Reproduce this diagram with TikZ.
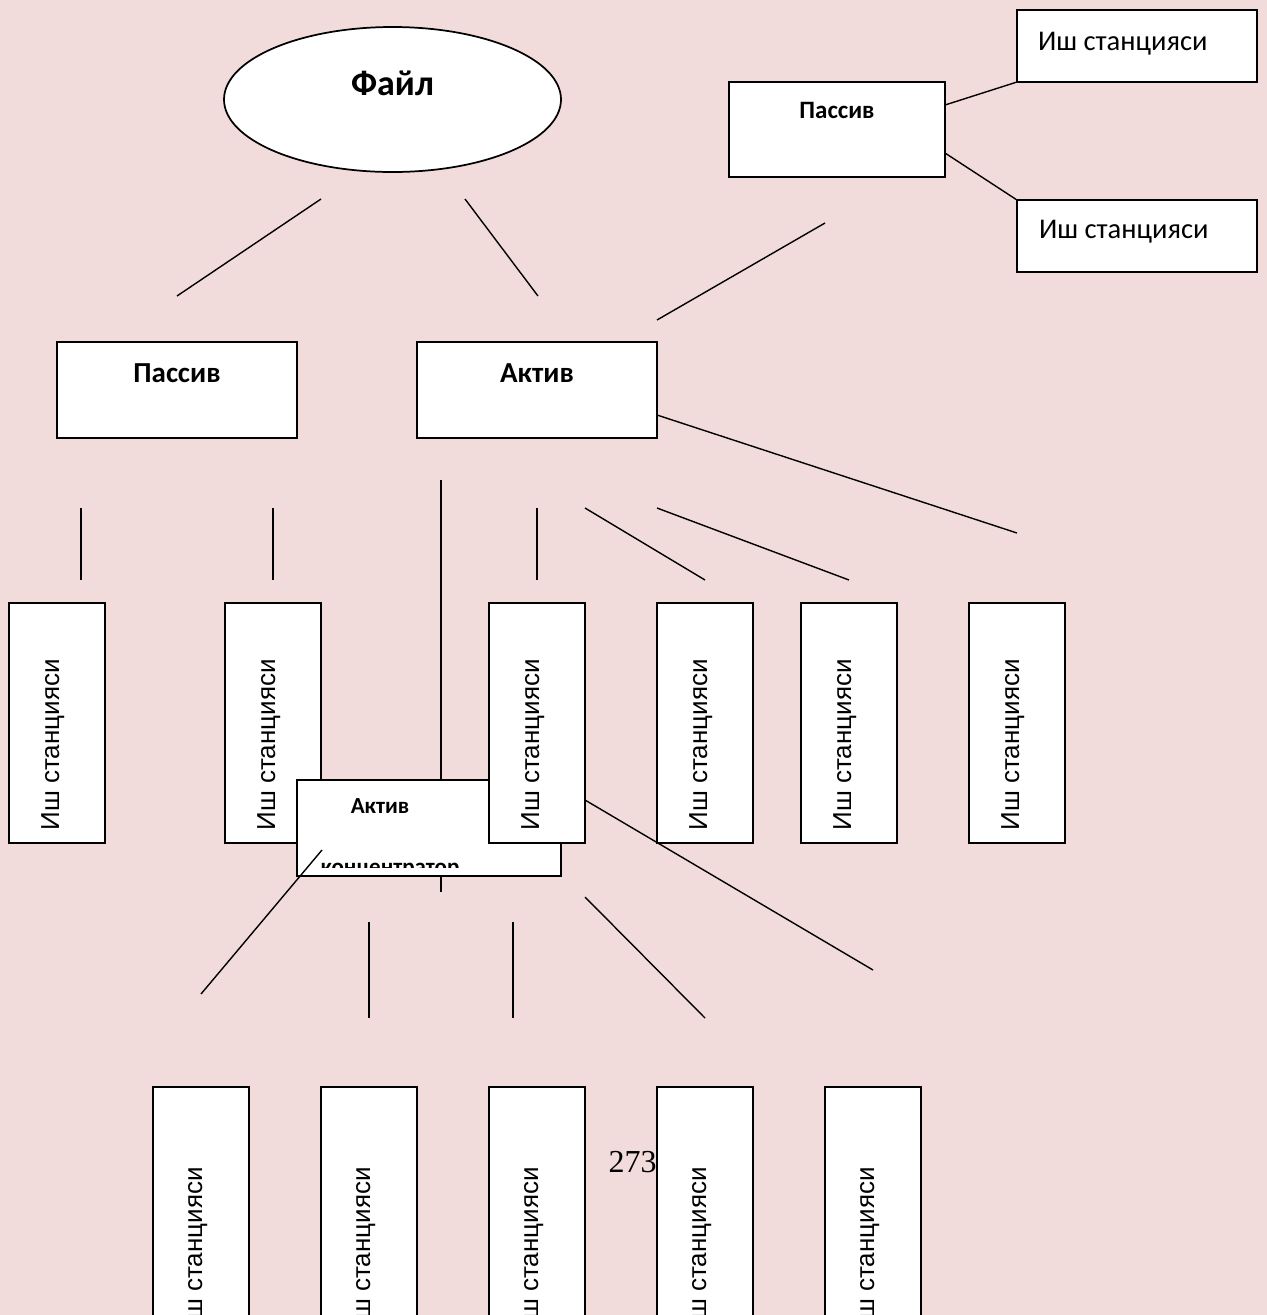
\documentclass[tikz,border=0pt]{standalone}
\usepackage{fontspec}
\setmainfont{Carlito}
\newfontfamily\arialfont{Liberation Sans}
\newfontfamily\timesfont{Liberation Serif}
\usetikzlibrary{shapes.geometric}
\definecolor{pagepink}{HTML}{F2DCDB}

\begin{document}
\begin{tikzpicture}[x=0.75pt,y=-0.75pt,
  every node/.style={inner sep=0pt, outer sep=0pt},
  frame/.style 2 args={rectangle, draw=black, fill=white, line width=1.4pt,
    anchor=north west, minimum width=#1*0.75pt, minimum height=#2*0.75pt},
  oval/.style={ellipse, draw=black, fill=white, line width=1.3pt},
  wire/.style={draw=black, line width=1.05pt},
  bigbold/.style={anchor=base, font=\bfseries\fontsize{27}{32}\selectfont},
  midbold/.style={anchor=base, font=\bfseries\fontsize{21.75}{26}\selectfont},
  smallbold/.style={anchor=base, font=\bfseries\fontsize{18.75}{22}\selectfont},
  tinybold/.style={anchor=base, font=\bfseries\fontsize{17.25}{20}\selectfont},
  plain/.style={anchor=base west, font=\fontsize{21.4}{26}\selectfont},
  vtext/.style={anchor=base, rotate=90, font=\arialfont\fontsize{19.5}{23}\selectfont},
  station/.style={frame={96}{240}},
  tallstation/.style={frame={96}{260}},
]
\useasboundingbox (0,0) rectangle (1267,1315);
\fill[pagepink] (0,0) rectangle (1267,1315);
\clip (0,0) rectangle (1267,1315);

% ---- top level: file server and the two hub types ----
\node[oval, minimum width=337*0.75pt, minimum height=145*0.75pt] (file) at (392.5,99.5) {};
\node[bigbold] (fileT) at (392.5,95) {Файл};

\coordinate (f1a) at (321,199); \coordinate (f1b) at (177,296);
\coordinate (f2a) at (465,199); \coordinate (f2b) at (538,296);
\draw[wire] (f1a) -- (f1b);
\draw[wire] (f2a) -- (f2b);

\node[frame={240}{96}] (pasL) at (57,342) {};
\node[midbold] (pasLT) at (177,382) {Пассив};
\node[frame={240}{96}] (akt) at (417,342) {};
\node[midbold] (aktT) at (537,382) {Актив};

% passive hub hanging off the active hub
\node[frame={216}{95}] (pasR) at (729,82) {};
\node[smallbold] (pasRT) at (837,118) {Пассив};
\node[frame={240}{72}] (ws1) at (1017,10) {};
\node[plain] (ws1T) at (1038,50) {Иш станцияси};
\node[frame={240}{72}] (ws2) at (1017,200) {};
\node[plain] (ws2T) at (1039,238) {Иш станцияси};

\coordinate (r1a) at (945,105);
\coordinate (r2a) at (945,153);
\draw[wire] (r1a) -- (ws1.south west);
\draw[wire] (r2a) -- (ws2.north west);
\coordinate (r3a) at (825,223); \coordinate (r3b) at (657,320);
\draw[wire] (r3a) -- (r3b);

\coordinate (a1a) at (657,415); \coordinate (a1b) at (1017,533);
\draw[wire] (a1a) -- (a1b);

% ---- short drops towards the workstations ----
\coordinate (d1a) at (81,508);  \coordinate (d1b) at (81,580);
\coordinate (d2a) at (273,508); \coordinate (d2b) at (273,580);
\coordinate (d3a) at (441,480); \coordinate (d3b) at (441,892);
\coordinate (d4a) at (537,508); \coordinate (d4b) at (537,580);
\coordinate (d5a) at (585,508); \coordinate (d5b) at (705,580);
\coordinate (d6a) at (657,508); \coordinate (d6b) at (849,580);
\draw[wire] (d1a) -- (d1b);
\draw[wire] (d2a) -- (d2b);
\draw[wire] (d3a) -- (d3b);
\draw[wire] (d4a) -- (d4b);
\draw[wire] (d5a) -- (d5b);
\draw[wire] (d6a) -- (d6b);

% ---- middle row of workstations ----
\node[station] (m1) at (9,603) {};
\node[vtext] (m1T) at (59,745) {Иш станцияси};
\node[station] (m2) at (225,603) {};
\node[vtext] (m2T) at (275,745) {Иш станцияси};
\node[station] (m4) at (657,603) {};
\node[vtext] (m4T) at (707,745) {Иш станцияси};
\node[station] (m5) at (801,603) {};
\node[vtext] (m5T) at (851,745) {Иш станцияси};
\node[station] (m6) at (969,603) {};
\node[vtext] (m6T) at (1019,745) {Иш станцияси};

% ---- active concentrator ----
\node[frame={264}{96}] (conc) at (297,780) {};
\node[tinybold] (concT1) at (380,813) {Актив};
\begin{scope}
  \clip (297,780) rectangle (561,867);
  \node[tinybold] (concT2) at (390,874) {концентратор};
\end{scope}

\node[station] (m3) at (489,603) {};
\node[vtext] (m3T) at (539,745) {Иш станцияси};

% ---- drops from the concentrator ----
\coordinate (k1a) at (322,850); \coordinate (k1b) at (201,994);
\coordinate (k2a) at (369,922); \coordinate (k2b) at (369,1018);
\coordinate (k3a) at (513,922); \coordinate (k3b) at (513,1018);
\coordinate (k4a) at (585,897); \coordinate (k4b) at (705,1018);
\coordinate (k5a) at (585,800); \coordinate (k5b) at (873,970);
\draw[wire] (k1a) -- (k1b);
\draw[wire] (k2a) -- (k2b);
\draw[wire] (k3a) -- (k3b);
\draw[wire] (k4a) -- (k4b);
\draw[wire] (k5a) -- (k5b);

% page number
\node[anchor=base, font=\timesfont\fontsize{24}{28}\selectfont] (pg) at (632.5,1172) {273};

% ---- bottom row of workstations ----
\node[tallstation] (b1) at (153,1087) {};
\node[vtext] (b1T) at (202,1253) {Иш станцияси};
\node[tallstation] (b2) at (321,1087) {};
\node[vtext] (b2T) at (370,1253) {Иш станцияси};
\node[tallstation] (b3) at (489,1087) {};
\node[vtext] (b3T) at (538,1253) {Иш станцияси};
\node[tallstation] (b4) at (657,1087) {};
\node[vtext] (b4T) at (706,1253) {Иш станцияси};
\node[tallstation] (b5) at (825,1087) {};
\node[vtext] (b5T) at (874,1253) {Иш станцияси};
\end{tikzpicture}
\end{document}
